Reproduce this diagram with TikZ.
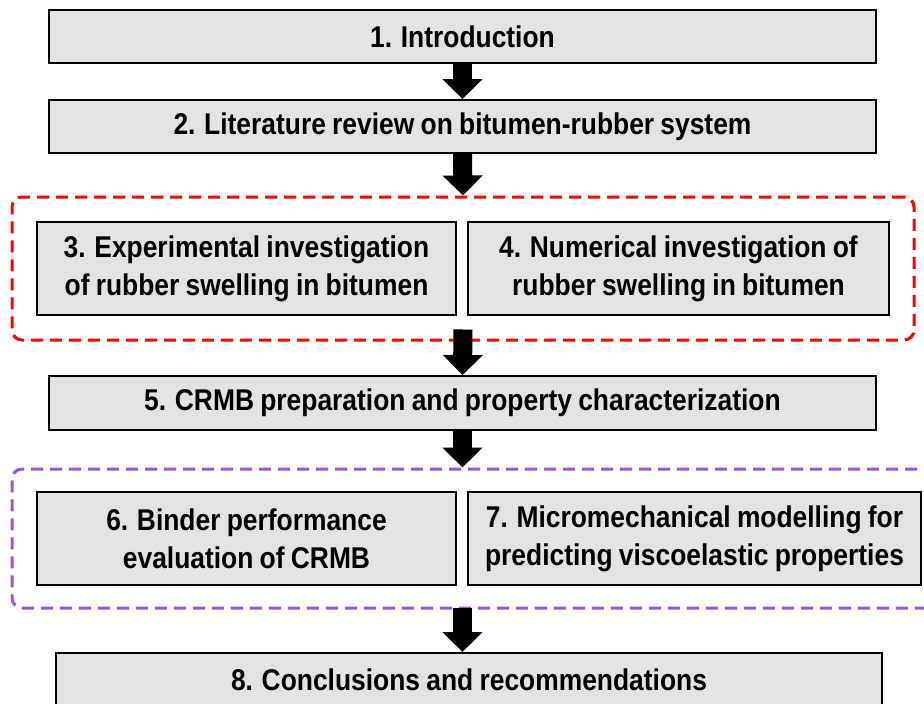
\documentclass[tikz,border=0pt]{standalone}
\usepackage{fontspec}
\usepackage{tikz}
\usetikzlibrary{positioning}
\usetikzlibrary{fit}
\usetikzlibrary{arrows.meta}
\newfontfamily\chapfont[FakeStretch=0.88, WordSpace=0.85]{Liberation Sans}
\definecolor{chapgray}{RGB}{227,227,227}
\definecolor{groupred}{RGB}{255,0,0}
\definecolor{grouppurple}{RGB}{155,87,210}
\tikzset{
  chapter/.style={draw=black, line width=2pt, fill=chapgray, align=center, inner sep=0pt,
    font=\chapfont\bfseries\fontsize{30}{38}\selectfont},
  group/.style={dash pattern=on 12pt off 7pt, line width=3pt, rounded corners=10pt, inner sep=24pt},
  flow/.style={line width=19pt, -{Triangle[width=39pt,length=20pt]}}
}

\begin{document}
\begin{tikzpicture}[x=1pt, y=-1pt]
	\useasboundingbox (0,0) rectangle (924,704);
	\node[chapter, minimum width=827pt, minimum height=53pt] (intro) at (462.5, 36.5) {1. Introduction};
	\node[chapter, minimum width=827pt, minimum height=53pt] (review) at (462.5, 126.5) {2. Literature review on bitumen-rubber system};
	\node[chapter, minimum width=419pt, minimum height=93pt] (exper) at (246.5, 268.5) {3. Experimental investigation\\of rubber swelling in bitumen};
	\node[chapter, minimum width=421pt, minimum height=93pt] (numer) at (678.5, 268.5) {4. Numerical investigation of\\rubber swelling in bitumen};
	\node[chapter, minimum width=827pt, minimum height=54pt] (crmb) at (462.5, 403) {5. CRMB preparation and property characterization};
	\node[chapter, minimum width=419pt, minimum height=93pt] (binder) at (246.5, 538.5) {6. Binder performance\\evaluation of CRMB};
	\node[chapter, minimum width=453pt, minimum height=93pt] (micro) at (694.5, 538.5) {7. Micromechanical modelling for\\predicting viscoelastic properties};
	\node[chapter, minimum width=826pt, minimum height=54pt] (concl) at (469, 680) {8. Conclusions and recommendations};
	% dashed groups
	\node[group, draw=groupred, fit=(exper)(numer)] (swell) {};
	\node[group, draw=grouppurple, inner ysep=22pt, fit=(binder)(micro)] (perf) {};
	% block arrows
	\draw[flow] (intro.south) -- (review.north);
	\draw[flow] (review.south) -- (swell.north);
	\draw[flow] ([yshift=12pt]swell.south) -- (crmb.north);
	\draw[flow] (crmb.south) -- (crmb.south |- perf.north);
	\draw[flow] ([yshift=2pt]crmb.south |- perf.south) -- (crmb.south |- concl.north);
\end{tikzpicture}
\end{document}
